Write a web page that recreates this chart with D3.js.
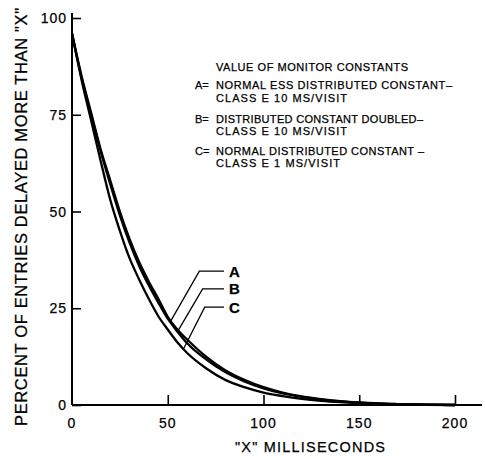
<!DOCTYPE html>
<html>
<head>
<meta charset="utf-8">
<script src="https://cdn.jsdelivr.net/npm/d3@7"></script>
<style>
  html, body { margin: 0; padding: 0; background: #fff; }
  svg { display: block; }
  text { font-family: "Liberation Sans", Arial, sans-serif; fill: #000; stroke: #000; stroke-width: 0.25px; }
</style>
</head>
<body>
<div id="chart"></div>
<script>
// ---- data ----
const xValues = [0,5,10,15,20,25,30,35,40,45,50,55,60,70,80,90,100,110,120,130,140,150,160,170,185,200];
const seriesA = [96,85,75.5,66,58,50,43,37,32,27.5,22.8,19.5,17,12.5,9,6.5,4.6,3.2,2.2,1.5,1,0.65,0.4,0.25,0.1,0];
const seriesB = [96,84.5,75,65.5,57,49,42,36,31,26.5,22.3,19,16,11.8,8.5,6.1,4.3,3,2.1,1.4,0.95,0.6,0.38,0.22,0.08,0];
const seriesC = [96,84,73.5,63,53,45,38,32.5,27.5,23,19.5,16.2,13.5,9.5,6.5,4.6,3.2,2.3,1.6,1.1,0.75,0.5,0.3,0.18,0.06,0];
const seriesNames = ["A", "B", "C"];
const labelAnchorX = [51.6, 55.1, 58.2];   // where each leader line touches its curve (data x)
const labelElbowX = [66.5, 68.2, 69.3];     // leader elbow (data x)
const labelElbowY = [34.6, 30.0, 25.3];     // leader elbow (data y)
const labelTextX = 82;                      // label text position (data x)
const xTicks = [0, 50, 100, 150, 200];
const yTicks = [0, 25, 50, 75, 100];
const legendTitle = "VALUE OF MONITOR CONSTANTS";
const legendLines = [
  ["A=", "NORMAL ESS DISTRIBUTED CONSTANT\u2013"],
  ["", "CLASS E 10 MS/VISIT"],
  ["B=", "DISTRIBUTED CONSTANT DOUBLED\u2013"],
  ["", "CLASS E 10 MS/VISIT"],
  ["C=", "NORMAL  DISTRIBUTED CONSTANT \u2013"],
  ["", "CLASS E 1 MS/VISIT"]
];
const xTitle = "\"X\" MILLISECONDS";
const yTitle = "PERCENT OF ENTRIES DELAYED MORE THAN \"X\"";

// ---- layout ----
const W = 485, H = 459;
const svg = d3.select("#chart").append("svg").attr("width", W).attr("height", H);

const x = d3.scaleLinear().domain([0, 200]).range([72, 455]);
const y = d3.scaleLinear().domain([0, 100]).range([405, 18]);

// axes lines
svg.append("line").attr("x1", x(0)).attr("x2", 482).attr("y1", y(0)).attr("y2", y(0))
  .attr("stroke", "#000").attr("stroke-width", 2);
svg.append("line").attr("x1", x(0)).attr("x2", x(0)).attr("y1", 13).attr("y2", y(0))
  .attr("stroke", "#000").attr("stroke-width", 2);

// y ticks (inside, to the right)
const yAxis = d3.axisRight(y).tickValues(yTicks).tickSize(9).tickFormat("");
const gy = svg.append("g").attr("transform", `translate(${x(0)},0)`).call(yAxis);
gy.select(".domain").remove();
gy.selectAll(".tick line").attr("stroke", "#000").attr("stroke-width", 1.6);
svg.selectAll(".ylab").data(yTicks).enter().append("text")
  .attr("x", 67).attr("y", d => y(d)).attr("dy", "0.36em")
  .attr("text-anchor", "end").attr("font-size", 14).attr("letter-spacing", 1)
  .text(d => d);

// x ticks (inside, upward)
const xAxis = d3.axisTop(x).tickValues(xTicks.slice(1)).tickSize(10).tickFormat("");
const gx = svg.append("g").attr("transform", `translate(0,${y(0)})`).call(xAxis);
gx.select(".domain").remove();
gx.selectAll(".tick line").attr("stroke", "#000").attr("stroke-width", 1.6);
svg.selectAll(".xlab").data(xTicks).enter().append("text")
  .attr("x", d => x(d)).attr("y", 428).attr("text-anchor", "middle")
  .attr("font-size", 14).attr("letter-spacing", 1)
  .text(d => d);

// axis titles
svg.append("text").attr("x", 310).attr("y", 452).attr("text-anchor", "middle")
  .attr("font-size", 14.5).attr("textLength", 150).attr("lengthAdjust", "spacing")
  .text(xTitle);
svg.append("text").attr("transform", "translate(27,217) rotate(-90)")
  .attr("text-anchor", "middle").attr("font-size", 16.5)
  .attr("textLength", 418).attr("lengthAdjust", "spacing")
  .text(yTitle);

// curves
const allSeries = [seriesA, seriesB, seriesC];
const line = d3.line().x(d => x(d[0])).y(d => y(d[1])).curve(d3.curveMonotoneX);
allSeries.forEach((s, i) => {
  svg.append("path").datum(xValues.map((xv, j) => [xv, s[j]]))
    .attr("d", line).attr("fill", "none").attr("stroke", "#000")
    .attr("stroke-width", 2.3).attr("stroke-linejoin", "round");
});

// leader lines and labels
function interp(s, xv) {
  return d3.scaleLinear().domain(xValues).range(s)(xv);
}
seriesNames.forEach((name, i) => {
  const ax = labelAnchorX[i], ay = interp(allSeries[i], ax);
  svg.append("polyline")
    .attr("points", [[x(ax), y(ay)], [x(labelElbowX[i]), y(labelElbowY[i])], [x(labelTextX) - 5, y(labelElbowY[i])]]
      .map(p => p.join(",")).join(" "))
    .attr("fill", "none").attr("stroke", "#000").attr("stroke-width", 1.3);
  svg.append("text").attr("x", x(labelTextX)).attr("y", y(labelElbowY[i])).attr("dy", "0.37em")
    .attr("font-size", 15).attr("font-weight", "bold").text(name);
});

// legend block
const legX = 216;
svg.append("text").attr("x", legX).attr("y", 71).attr("font-size", 11)
  .attr("textLength", 192).attr("lengthAdjust", "spacing").text(legendTitle);
const legY = [89, 102, 123, 135, 155, 167];
const legLen = [236, 131, 207, 131, 208, 124];
legendLines.forEach((l, i) => {
  if (l[0]) svg.append("text").attr("x", 195).attr("y", legY[i]).attr("font-size", 11).text(l[0]);
  svg.append("text").attr("x", legX).attr("y", legY[i]).attr("font-size", 11)
    .attr("textLength", legLen[i]).attr("lengthAdjust", "spacing").text(l[1]);
});
</script>
</body>
</html>
